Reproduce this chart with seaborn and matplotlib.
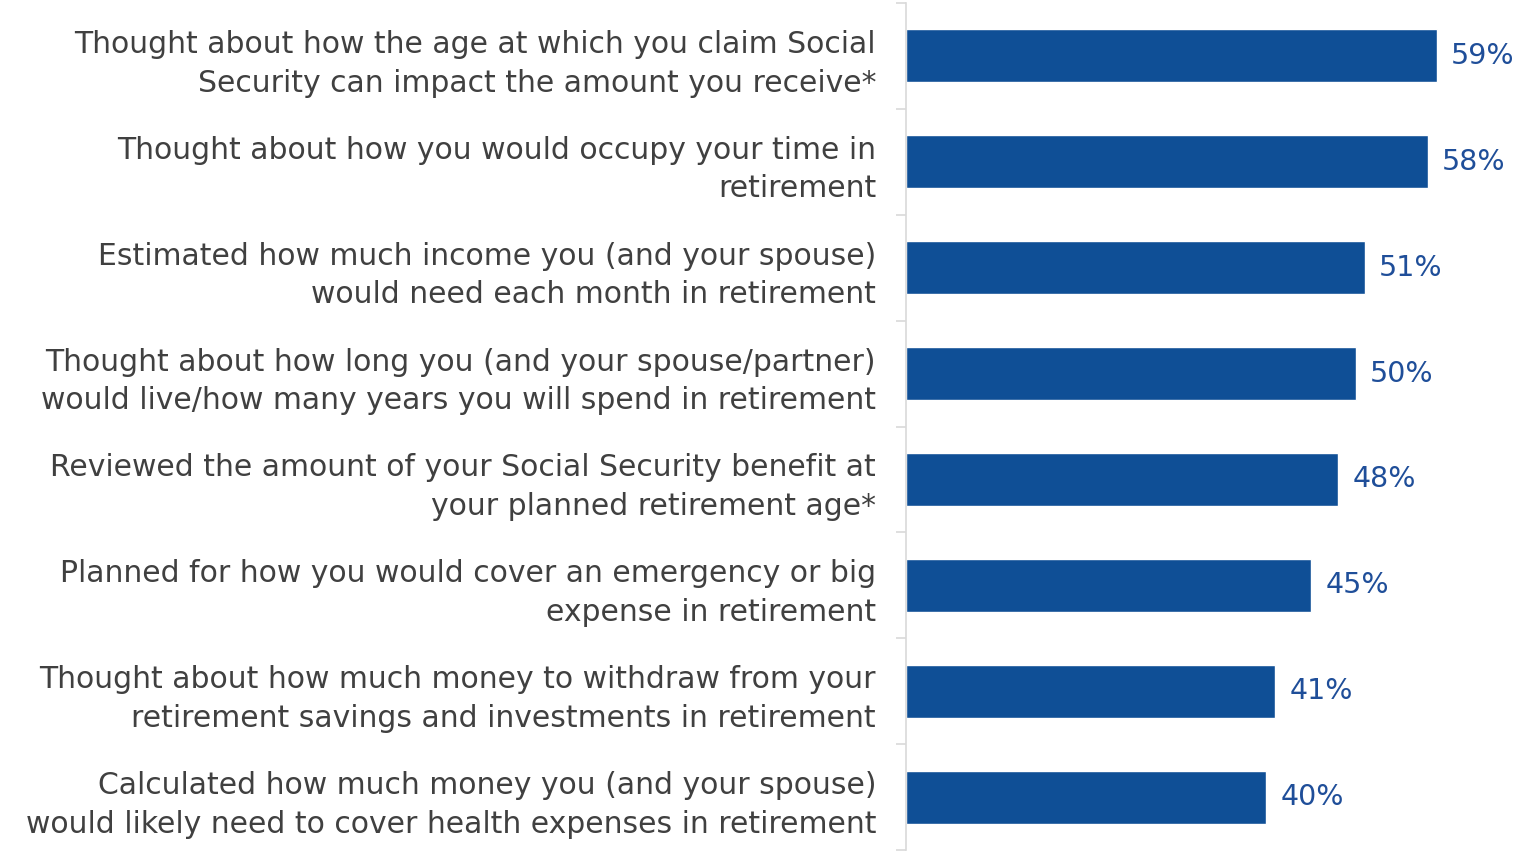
import matplotlib
matplotlib.use("Agg")
import matplotlib.pyplot as plt
import numpy as np
import pandas as pd
import seaborn as sns

categories = [
    "Thought about how the age at which you claim Social\nSecurity can impact the amount you receive*",
    "Thought about how you would occupy your time in\nretirement",
    "Estimated how much income you (and your spouse)\nwould need each month in retirement",
    "Thought about how long you (and your spouse/partner)\nwould live/how many years you will spend in retirement",
    "Reviewed the amount of your Social Security benefit at\nyour planned retirement age*",
    "Planned for how you would cover an emergency or big\nexpense in retirement",
    "Thought about how much money to withdraw from your\nretirement savings and investments in retirement",
    "Calculated how much money you (and your spouse)\nwould likely need to cover health expenses in retirement",
]
values = [59, 58, 51, 50, 48, 45, 41, 40]

df = pd.DataFrame({"category": categories, "value": values})

sns.set_style("white")
plt.rcParams["font.family"] = ["DejaVu Sans"]

bar_color = "#0F4F96"
text_color = "#404040"
label_color = "#1F4E99"
axis_color = "#D9D9D9"

fig = plt.figure(figsize=(15.16, 8.51), dpi=100)
ax = fig.add_axes([906 / 1516, 1 / 851, 1 - 906 / 1516, 847 / 851])

sns.barplot(data=df, x="value", y="category", color=bar_color, width=0.5,
            saturation=1, ax=ax)

ax.set_xlim(0, 67.8)
ax.set_ylim(len(categories) - 0.5, -0.5)
ax.set_xlabel("")
ax.set_ylabel("")
ax.set_xticks([])

for s in ["top", "right", "bottom"]:
    ax.spines[s].set_visible(False)
ax.spines["left"].set_color(axis_color)
ax.spines["left"].set_linewidth(1.2)

# category labels on major ticks, tick marks at the boundaries
ax.set_yticks(range(len(categories)))
ax.set_yticklabels(categories, fontsize=21.5, color=text_color, linespacing=1.42)
ax.tick_params(axis="y", which="major", left=True, length=0, pad=21.6)
ax.set_yticks(np.arange(-0.5, len(categories), 1), minor=True)
ax.tick_params(axis="y", which="minor", left=True, length=7, color=axis_color, width=1.2)

for i, v in enumerate(values):
    ax.text(v + 1.6, i, f"{v}%", va="center", ha="left",
            fontsize=20.5, color=label_color)

fig.savefig("out.png", dpi=100)
